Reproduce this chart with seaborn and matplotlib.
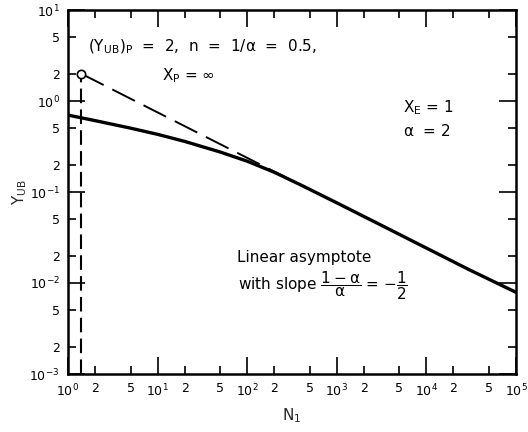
import numpy as np
import pandas as pd
import matplotlib
matplotlib.use("Agg")
import matplotlib.pyplot as plt
from matplotlib.ticker import FixedLocator, FixedFormatter
import seaborn as sns

# ---- data ----
n_curve = [1, 2, 5, 10, 20, 50, 100, 200, 400, 1000, 3000, 1e4, 3e4, 1e5]
y_curve = [0.70, 0.609, 0.503, 0.43, 0.36, 0.275, 0.218, 0.165, 0.119, 0.076,
           0.0441, 0.0242, 0.0140, 0.0079]
n_asym = [1.4, 300]
y_asym = [2.0, 0.137]
n_vert = [1.4, 1.4]
y_vert = [1e-3, 2.0]
point_n = [1.4]
point_y = [2.0]

x_major = [1, 10, 100, 1000, 1e4, 1e5]
x_major_labels = [r"$10^0$", r"$10^1$", r"$10^2$", r"$10^3$", r"$10^4$", r"$10^5$"]
x_minor = [2, 5, 20, 50, 200, 500, 2000, 5000, 2e4, 5e4]
x_minor_labels = ["2", "5"] * 5
y_major = [1e-3, 1e-2, 1e-1, 1, 10]
y_major_labels = [r"$10^{-3}$", r"$10^{-2}$", r"$10^{-1}$", r"$10^0$", r"$10^1$"]
y_minor = [2e-3, 5e-3, 2e-2, 5e-2, 0.2, 0.5, 2, 5]
y_minor_labels = ["2", "5"] * 4

sns.set_style("ticks")
plt.rcParams["font.family"] = ["DejaVu Sans"]
plt.rcParams["mathtext.fontset"] = "dejavusans"

fig = plt.figure(figsize=(5.28, 4.32), dpi=100)
ax = fig.add_axes([68 / 528, 1 - 374 / 432, 448 / 528, 364 / 432])

df_c = pd.DataFrame({"N": n_curve, "Y": y_curve})
df_a = pd.DataFrame({"N": n_asym, "Y": y_asym})
df_v = pd.DataFrame({"N": n_vert, "Y": y_vert})

sns.lineplot(data=df_c, x="N", y="Y", ax=ax, color="black", linewidth=2.4,
             sort=False, estimator=None)
sns.lineplot(data=df_a, x="N", y="Y", ax=ax, color="black", linewidth=1.4,
             sort=False, estimator=None)
ax.lines[-1].set_linestyle((0, (13, 5)))
sns.lineplot(data=df_v, x="N", y="Y", ax=ax, color="black", linewidth=1.5,
             sort=False, estimator=None)
ax.lines[-1].set_linestyle((0, (7, 3)))
ax.plot(point_n, point_y, marker="o", markersize=6, markerfacecolor="white",
        markeredgecolor="black", markeredgewidth=1.2, linestyle="none", zorder=5)

ax.set_xscale("log")
ax.set_yscale("log")
ax.set_xlim(1, 1e5)
ax.set_ylim(1e-3, 10)

ax.xaxis.set_major_locator(FixedLocator(x_major))
ax.xaxis.set_major_formatter(FixedFormatter(x_major_labels))
ax.xaxis.set_minor_locator(FixedLocator(x_minor))
ax.xaxis.set_minor_formatter(FixedFormatter(x_minor_labels))
ax.yaxis.set_major_locator(FixedLocator(y_major))
ax.yaxis.set_major_formatter(FixedFormatter(y_major_labels))
ax.yaxis.set_minor_locator(FixedLocator(y_minor))
ax.yaxis.set_minor_formatter(FixedFormatter(y_minor_labels))

ax.tick_params(which="both", direction="in", top=True, right=True, colors="black",
               labelsize=9, width=1.2)
ax.tick_params(which="major", length=12, pad=6)
ax.tick_params(which="minor", length=6, pad=6)
for s in ax.spines.values():
    s.set_visible(True)
    s.set_linewidth(1.8)
    s.set_color("black")

ax.set_xlabel(r"$\mathregular{N_1}$", fontsize=11, labelpad=5)
ax.set_ylabel(r"$\mathregular{Y_{UB}}$", fontsize=11, labelpad=0)

kw = dict(transform=ax.transAxes, fontsize=11, color="black", va="center")
ax.text(0.045, 0.898, r"$\mathregular{(Y_{UB})_P}$  =  2,  n  =  $\mathregular{1/\alpha}$  =  0.5,", **kw)
ax.text(0.21, 0.821, r"$\mathregular{X_P}$ = $\infty$", **kw)
ax.text(0.748, 0.731, r"$\mathregular{X_E}$ = 1", **kw)
ax.text(0.748, 0.668, r"$\mathregular{\alpha}$  = 2", **kw)
ax.text(0.377, 0.319, "Linear asymptote", **kw)
ax.text(0.38, 0.242, r"with slope $\mathregular{\dfrac{1-\alpha}{\alpha}}$ = $-\mathregular{\dfrac{1}{2}}$", **kw)

fig.savefig("out.png", dpi=100)
